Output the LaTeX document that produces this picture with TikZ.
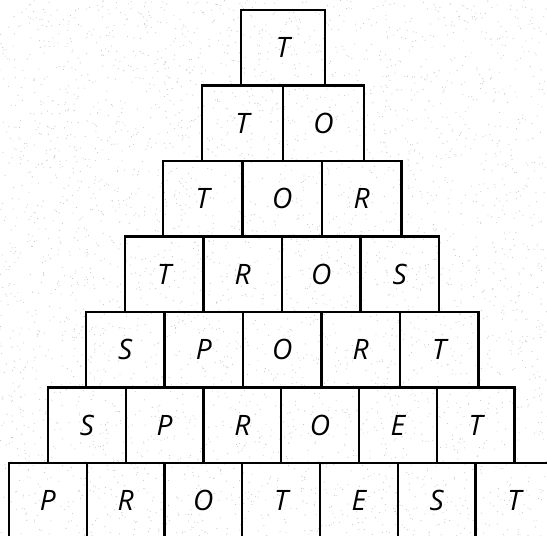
\documentclass[tikz,border=0pt]{standalone}
\usepackage{fontspec}
\setmainfont{Open Sans}
\usetikzlibrary{positioning}

\begin{document}
\begin{tikzpicture}[cell/.style={draw,line width=1.2pt,minimum height=1.51cm,inner sep=0pt,font=\fontsize{16}{18}\selectfont\itshape}]
  \useasboundingbox (0,0) rectangle (10.94,-10.72);
  \clip (0,0) rectangle (10.94,-10.72);
  % grain of the scan
  \pgfmathsetseed{7}
  \foreach \i in {1,...,4000}
    \fill[gray!45] ({10.94*rnd},{-10.72*rnd}) circle (0.011);
  % the pyramid, one row per word: letters / left edge / cell width
  \foreach \word/\lx/\cw [count=\r from 0] in {{T}/4.82/1.68,{T,O}/4.04/1.62,{T,O,R}/3.26/1.59,{T,R,O,S}/2.50/1.57,{S,P,O,R,T}/1.72/1.57,{S,P,R,O,E,T}/0.96/1.555,{P,R,O,T,E,S,T}/0.18/1.555}
    \foreach \ch [count=\k from 0] in \word
      \node[cell,minimum width=\cw cm] (c\r\k) at ({\lx+\cw*(\k+0.5)},{-0.955-1.51*\r}) {\ch};
\end{tikzpicture}
\end{document}
